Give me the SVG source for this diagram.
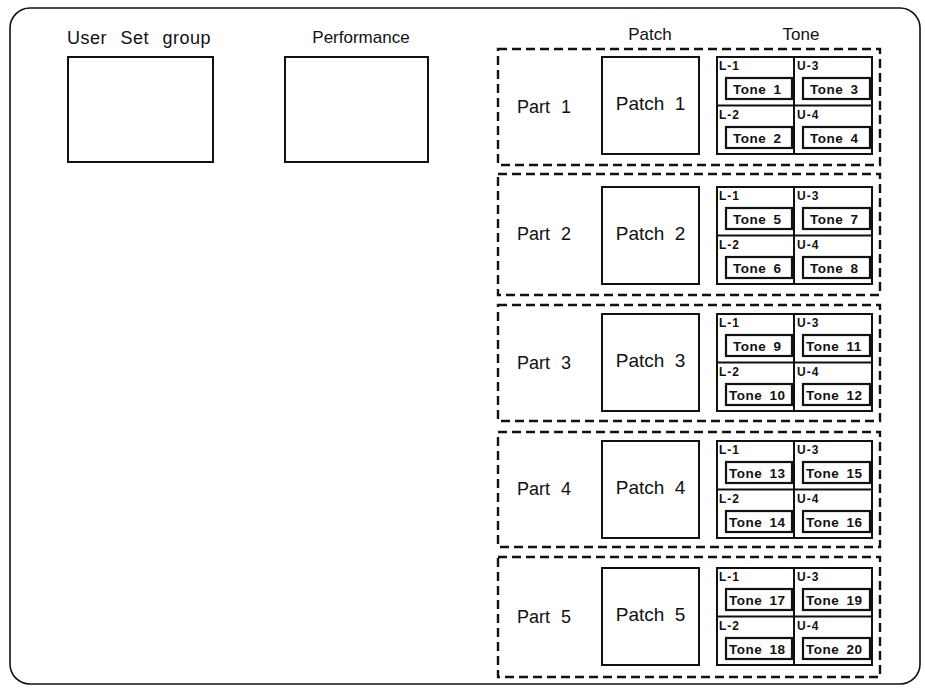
<svg xmlns="http://www.w3.org/2000/svg" width="925" height="688" viewBox="0 0 925 688">
<style>
text{font-family:"Liberation Sans",Arial,sans-serif;fill:#111}
.head{font-size:17px;word-spacing:5px}
.part{font-size:18px;word-spacing:6px}
.patch{font-size:19px;word-spacing:5px;text-anchor:middle}
.lab{font-size:12px;font-weight:bold;letter-spacing:1px}
.tone{font-size:13.5px;font-weight:bold;word-spacing:3px;letter-spacing:0.5px}
.box{fill:#fff;stroke:#111;stroke-width:2}
.tb{fill:none;stroke:#111;stroke-width:2.2}
.dash{fill:none;stroke:#111;stroke-width:2.4;stroke-dasharray:9 5}
.ln{stroke:#111;stroke-width:2}
</style>
<defs>
<g id="grid">
<rect class="box" x="717" y="57" width="155" height="97"/>
<line class="ln" x1="794" y1="57" x2="794" y2="154"/>
<line class="ln" x1="717" y1="105.5" x2="872" y2="105.5"/>
<text class="lab" x="719" y="70">L-1</text>
<text class="lab" x="797" y="70">U-3</text>
<text class="lab" x="719" y="119">L-2</text>
<text class="lab" x="797" y="119">U-4</text>
<rect class="tb" x="726" y="78" width="66" height="21"/>
<rect class="tb" x="803" y="78" width="67" height="21"/>
<rect class="tb" x="726" y="127" width="66" height="21"/>
<rect class="tb" x="803" y="127" width="67" height="21"/>
</g>
</defs>
<rect x="10" y="8" width="910" height="676" rx="20" ry="20" fill="#fff" stroke="#111" stroke-width="1.6"/>
<g id="user-set-group">
<text class="head" x="67" y="44" style="font-size:18px;letter-spacing:0.5px;word-spacing:8px">User Set group</text>
<rect class="box" x="68" y="57" width="145" height="105"/>
</g>
<g id="performance">
<text class="head" x="361" y="43" text-anchor="middle" style="word-spacing:0">Performance</text>
<rect class="box" x="285" y="57" width="143" height="105"/>
</g>
<g id="headers">
<text class="head" x="650" y="40" text-anchor="middle">Patch</text>
<text class="head" x="801" y="40" text-anchor="middle">Tone</text>
</g>
<g id="part1">
<rect class="dash" x="498" y="49" width="382" height="116"/>
<text class="part" x="517" y="113">Part 1</text>
<rect class="box" x="602" y="57" width="97" height="97"/>
<text class="patch" x="650.5" y="110">Patch 1</text>
<use href="#grid"/>
<text class="tone" x="733" y="94">Tone 1</text>
<text class="tone" x="810" y="94">Tone 3</text>
<text class="tone" x="733" y="143">Tone 2</text>
<text class="tone" x="810" y="143">Tone 4</text>
</g>
<g id="part2">
<rect class="dash" x="498" y="174" width="382" height="121"/>
<text class="part" x="517" y="240">Part 2</text>
<g transform="translate(0,130)">
<rect class="box" x="602" y="57" width="97" height="97"/>
<text class="patch" x="650.5" y="110">Patch 2</text>
<use href="#grid"/>
<text class="tone" x="733" y="94">Tone 5</text>
<text class="tone" x="810" y="94">Tone 7</text>
<text class="tone" x="733" y="143">Tone 6</text>
<text class="tone" x="810" y="143">Tone 8</text>
</g>
</g>
<g id="part3">
<rect class="dash" x="498" y="305" width="382" height="116"/>
<text class="part" x="517" y="369">Part 3</text>
<g transform="translate(0,257)">
<rect class="box" x="602" y="57" width="97" height="97"/>
<text class="patch" x="650.5" y="110">Patch 3</text>
<use href="#grid"/>
<text class="tone" x="733" y="94">Tone 9</text>
<text class="tone" x="806" y="94">Tone 11</text>
<text class="tone" x="729" y="143">Tone 10</text>
<text class="tone" x="806" y="143">Tone 12</text>
</g>
</g>
<g id="part4">
<rect class="dash" x="498" y="432" width="382" height="115"/>
<text class="part" x="517" y="495">Part 4</text>
<g transform="translate(0,384)">
<rect class="box" x="602" y="57" width="97" height="97"/>
<text class="patch" x="650.5" y="110">Patch 4</text>
<use href="#grid"/>
<text class="tone" x="729" y="94">Tone 13</text>
<text class="tone" x="806" y="94">Tone 15</text>
<text class="tone" x="729" y="143">Tone 14</text>
<text class="tone" x="806" y="143">Tone 16</text>
</g>
</g>
<g id="part5">
<rect class="dash" x="498" y="557" width="382" height="120"/>
<text class="part" x="517" y="623">Part 5</text>
<g transform="translate(0,511)">
<rect class="box" x="602" y="57" width="97" height="97"/>
<text class="patch" x="650.5" y="110">Patch 5</text>
<use href="#grid"/>
<text class="tone" x="729" y="94">Tone 17</text>
<text class="tone" x="806" y="94">Tone 19</text>
<text class="tone" x="729" y="143">Tone 18</text>
<text class="tone" x="806" y="143">Tone 20</text>
</g>
</g>
</svg>
